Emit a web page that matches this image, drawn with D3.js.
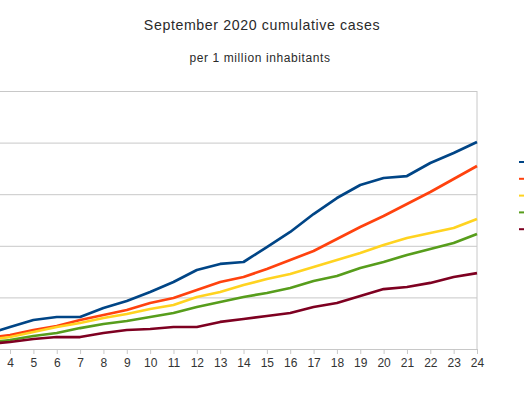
<!DOCTYPE html>
<html>
<head>
<meta charset="utf-8">
<script src="https://cdn.jsdelivr.net/npm/d3@7"></script>
<style>
  html, body { margin: 0; padding: 0; background: #ffffff; }
  svg { display: block; }
</style>
</head>
<body>
<svg id="chart" width="524" height="393"></svg>
<script>
// ---- data ----
const days = [1,2,3,4,5,6,7,8,9,10,11,12,13,14,15,16,17,18,19,20,21,22,23,24];
const visibleDayLabels = [4,5,6,7,8,9,10,11,12,13,14,15,16,17,18,19,20,21,22,23,24];
const seriesNames = ["Series 1", "Series 2", "Series 3", "Series 4", "Series 5"];
const seriesColors = ["#004586", "#ff420e", "#ffd320", "#579d1c", "#7e0021"];
const blueValues   = [39, 87, 145, 213, 281, 310, 310, 397, 465, 552, 649, 766, 824, 843, 988, 1134, 1308, 1463, 1589, 1657, 1676, 1802, 1899, 2006];
const orangeValues = [58, 78, 107, 136, 184, 223, 281, 329, 378, 446, 494, 572, 649, 698, 775, 862, 950, 1066, 1182, 1289, 1405, 1521, 1647, 1773];
const yellowValues = [39, 68, 87, 116, 165, 213, 252, 300, 339, 388, 426, 504, 552, 620, 678, 727, 795, 862, 930, 1008, 1076, 1124, 1172, 1260];
const greenValues  = [19, 39, 58, 87, 126, 155, 203, 242, 271, 310, 349, 407, 455, 504, 543, 591, 659, 707, 785, 843, 911, 969, 1027, 1114];
const maroonValues = [29, 39, 48, 68, 97, 116, 116, 155, 184, 194, 213, 213, 262, 291, 320, 349, 407, 446, 514, 581, 601, 640, 698, 736];
const yTicks = [0, 500, 1000, 1500, 2000, 2500];
const titleText = "September 2020 cumulative cases";
const subtitleText = "per 1 million inhabitants";

const allSeries = [blueValues, orangeValues, yellowValues, greenValues, maroonValues];

// ---- layout ----
const svg = d3.select("#chart");
const plotLeft = -80, plotRight = 477, plotTop = 91, plotBottom = 349;

const x = d3.scaleLinear().domain([1, 24]).range([-60, 477]);
const y = d3.scaleLinear().domain([0, 2500]).range([plotBottom, plotTop]);

// title
svg.append("text")
  .attr("x", 262).attr("y", 29.5)
  .attr("text-anchor", "middle")
  .attr("font-family", "Liberation Sans, Arial, sans-serif")
  .attr("font-size", 14.2)
  .attr("letter-spacing", 0.6)
  .attr("fill", "#2a2a2a")
  .text(titleText);

svg.append("text")
  .attr("x", 260).attr("y", 62)
  .attr("text-anchor", "middle")
  .attr("font-family", "Liberation Sans, Arial, sans-serif")
  .attr("font-size", 12)
  .attr("letter-spacing", 0.6)
  .attr("fill", "#2a2a2a")
  .text(subtitleText);

// gridlines via y axis
const yAxis = d3.axisLeft(y).tickValues(yTicks)
  .tickSize(-(plotRight - plotLeft)).tickFormat("");
const gy = svg.append("g").attr("transform", `translate(${plotLeft},0)`).call(yAxis);
gy.select(".domain").remove();
gy.selectAll(".tick line").attr("stroke", "#c8c8c8").attr("stroke-width", 1);

// right border
svg.append("line")
  .attr("x1", plotRight).attr("x2", plotRight)
  .attr("y1", plotTop).attr("y2", plotBottom)
  .attr("stroke", "#c8c8c8").attr("stroke-width", 1);

// x axis (ticks for days 1-3 lie left of the visible area, as in the cropped reference)
const xAxis = d3.axisBottom(x).tickValues(visibleDayLabels).tickSize(5).tickPadding(4)
  .tickFormat(d3.format("d"));
const gx = svg.append("g").attr("transform", `translate(0,${plotBottom})`).call(xAxis);
gx.select(".domain").attr("stroke", "#c8c8c8");
gx.selectAll(".tick line").attr("stroke", "#c8c8c8");
gx.selectAll(".tick text")
  .attr("font-family", "Liberation Sans, Arial, sans-serif")
  .attr("font-size", 12)
  .attr("fill", "#333333");

// lines
const line = d3.line().x((d, i) => x(days[i])).y(d => y(d));
svg.append("g").selectAll("path")
  .data(allSeries)
  .join("path")
  .attr("d", d => line(d))
  .attr("fill", "none")
  .attr("stroke", (d, i) => seriesColors[i])
  .attr("stroke-width", 2.7)
  .attr("stroke-linejoin", "round");

// legend (cropped at right edge in the reference)
const legend = svg.append("g");
seriesNames.forEach((name, i) => {
  const ly = 162 + i * 16.8;
  legend.append("line")
    .attr("x1", 519).attr("x2", 533)
    .attr("y1", ly).attr("y2", ly)
    .attr("stroke", seriesColors[i]).attr("stroke-width", 2);
});
</script>
</body>
</html>
